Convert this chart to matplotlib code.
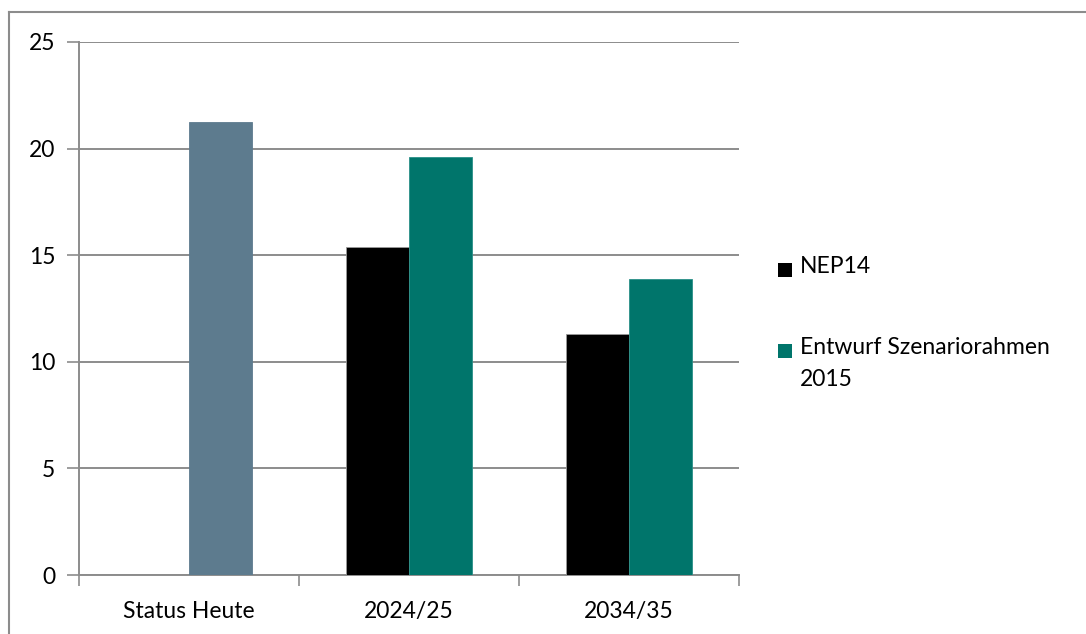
import matplotlib
matplotlib.use("Agg")
import matplotlib.pyplot as plt
from matplotlib.patches import Rectangle
from matplotlib.lines import Line2D
import numpy as np

plt.rcParams['font.family'] = ['Lato', 'DejaVu Sans']

categories = ["Status Heute", "2024/25", "2034/35"]
series_names = ["NEP14", "Entwurf Szenariorahmen\n2015"]
nep14 = [np.nan, 15.4, 11.3]
entwurf = [21.25, 19.6, 13.9]
y_ticks = [0, 5, 10, 15, 20, 25]

c_black = "#000000"
c_teal = "#00756B"
c_status = "#5D7B8E"
grid_c = "#8C8C8C"
FS = 16.5

W, H = 1086, 634
fig = plt.figure(figsize=(W / 100, H / 100), dpi=100)
ax = fig.add_axes([79 / W, 1 - 575 / H, 660 / W, 533 / H])

x = np.arange(len(categories))
bw = 1 / 3.5
ax.bar(x - bw / 2, nep14, width=bw, color=c_black, edgecolor="#9a9a9a", linewidth=0.6, zorder=3)
cols = [c_status, c_teal, c_teal]
ax.bar(x + bw / 2, entwurf, width=bw, color=cols, edgecolor=[c_status, "#2a9088", "#2a9088"],
       linewidth=0.6, zorder=3)

ax.set_xlim(-0.5, len(categories) - 0.5)
ax.set_ylim(0, 25)
ax.set_yticks(y_ticks)
ax.set_yticklabels([str(v) for v in y_ticks], fontsize=FS)
ax.yaxis.grid(True, color=grid_c, linewidth=1.4, zorder=0)
ax.set_axisbelow(True)
ax.set_xticks(x)
ax.set_xticklabels(categories, fontsize=FS)
ax.set_xticks(np.arange(len(categories) + 1) - 0.5, minor=True)
ax.tick_params(axis="x", which="major", length=0, pad=19)
ax.tick_params(axis="x", which="minor", length=8, width=1.2, color=grid_c, direction="out")
ax.tick_params(axis="y", length=9, width=1.2, color=grid_c, direction="out", pad=8)
for s in ["top", "right"]:
    ax.spines[s].set_visible(False)
for s in ["left", "bottom"]:
    ax.spines[s].set_color(grid_c)
    ax.spines[s].set_linewidth(1.4)

# figure border
fig.add_artist(Line2D([9 / W, 9 / W], [0, 1 - 12 / H], transform=fig.transFigure, color="#8C8C8C", lw=1.5))
fig.add_artist(Line2D([9 / W, 1], [1 - 12 / H, 1 - 12 / H], transform=fig.transFigure, color="#8C8C8C", lw=1.5))

# legend
leg_items = [(series_names[0], c_black, 270), (series_names[1], c_teal, 351)]
for label, col, yc in leg_items:
    fig.add_artist(Rectangle((778 / W, 1 - (yc + 7) / H), 14 / W, 14 / H,
                             transform=fig.transFigure, facecolor=col, edgecolor="none"))
    fig.text(800 / W, 1 - (yc - 14) / H, label, fontsize=FS, va="top", ha="left",
             linespacing=1.65)

fig.savefig("out.png", dpi=100)
